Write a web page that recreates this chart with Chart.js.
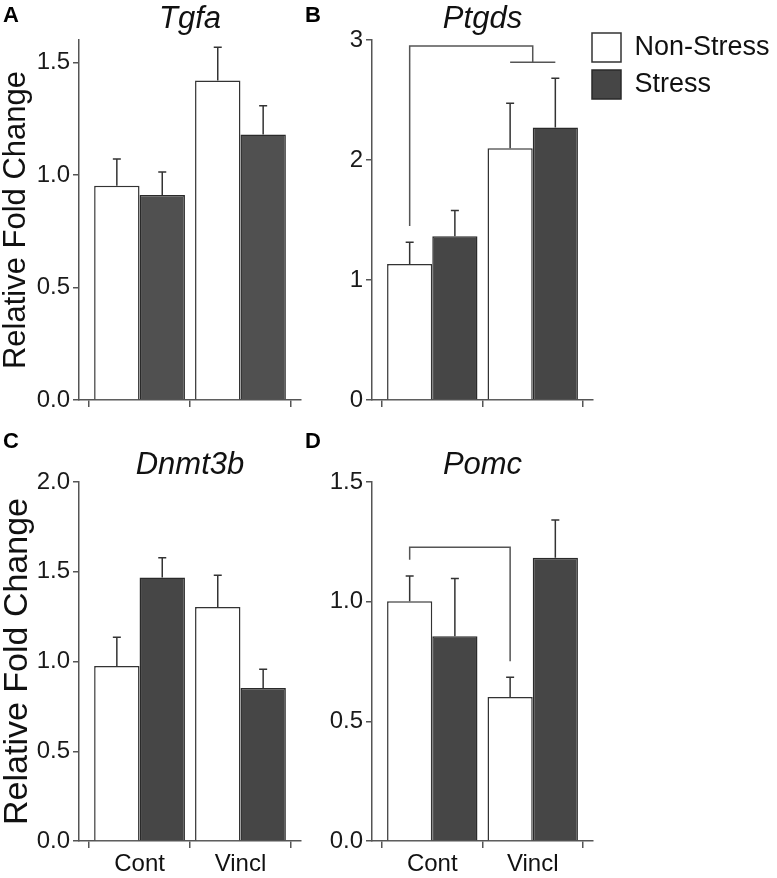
<!DOCTYPE html>
<html>
<head>
<meta charset="utf-8">
<script src="https://cdn.jsdelivr.net/npm/chart.js@4.4.1/dist/chart.umd.min.js"></script>
<style>
html, body { margin: 0; padding: 0; background: #ffffff; }
#wrap { position: relative; width: 777px; height: 878px; overflow: hidden; background: #ffffff; }
canvas { position: absolute; }
.plabel { position: absolute; font: bold 22px/22px "Liberation Sans", Arial, sans-serif; color: #000; }
</style>
</head>
<body>
<div id="wrap">
  <canvas id="cA" width="310" height="420" style="left:0px;top:0px"></canvas>
  <canvas id="cB" width="477" height="420" style="left:300px;top:0px"></canvas>
  <canvas id="cC" width="310" height="458" style="left:0px;top:420px"></canvas>
  <canvas id="cD" width="477" height="458" style="left:300px;top:420px"></canvas>
  <div class="plabel" style="left:3px;top:4px">A</div>
  <div class="plabel" style="left:305px;top:4px">B</div>
  <div class="plabel" style="left:3px;top:430px">C</div>
  <div class="plabel" style="left:305px;top:430px">D</div>
</div>
<script>
// ---------- data ----------
const categories = ['Cont', 'Vincl'];
const seriesNames = ['Non-Stress', 'Stress'];

const tgfaNonStress    = [0.952, 1.420];
const tgfaNonStressErr = [0.119, 0.148];
const tgfaStress       = [0.911, 1.180];
const tgfaStressErr    = [0.102, 0.128];
const tgfaTicks        = [0, 0.5, 1.0, 1.5];
const tgfaTickLabels   = ['0.0', '0.5', '1.0', '1.5'];

const ptgdsNonStress    = [1.134, 2.097];
const ptgdsNonStressErr = [0.180, 0.376];
const ptgdsStress       = [1.364, 2.270];
const ptgdsStressErr    = [0.215, 0.412];
const ptgdsTicks        = [0, 1, 2, 3];
const ptgdsTickLabels   = ['0', '1', '2', '3'];

const dnmt3bNonStress    = [0.975, 1.303];
const dnmt3bNonStressErr = [0.160, 0.178];
const dnmt3bStress       = [1.468, 0.853];
const dnmt3bStressErr    = [0.110, 0.104];
const dnmt3bTicks        = [0, 0.5, 1.0, 1.5, 2.0];
const dnmt3bTickLabels   = ['0.0', '0.5', '1.0', '1.5', '2.0'];

const pomcNonStress    = [1.002, 0.602];
const pomcNonStressErr = [0.105, 0.082];
const pomcStress       = [0.856, 1.183];
const pomcStressErr    = [0.241, 0.158];
const pomcTicks        = [0, 0.5, 1.0, 1.5];
const pomcTickLabels   = ['0.0', '0.5', '1.0', '1.5'];

// significance brackets: x refs (bar centre [dataset, category] or category centre) and y values
const ptgdsBracket = [
  { x: [['bar', 0, 0], ['bar', 0, 0], ['cat', 1], ['cat', 1]], y: [1.45, 2.95, 2.95, 2.815] },
  { x: [['bar', 0, 1], ['bar', 1, 1]], y: [2.815, 2.815] }
];
const pomcBracket = [
  { x: [['bar', 0, 0], ['bar', 0, 0], ['bar', 0, 1], ['bar', 0, 1]], y: [1.175, 1.227, 1.227, 0.751] }
];

// ---------- plugins ----------
const FONT = '"Liberation Sans", Arial, Helvetica, sans-serif';

const errorBars = {
  id: 'errorBars',
  afterDatasetsDraw(chart, args, o) {
    const ctx = chart.ctx, ys = chart.scales.y;
    ctx.save();
    ctx.strokeStyle = o.color || '#333';
    ctx.lineWidth = o.width || 1.5;
    chart.data.datasets.forEach((ds, di) => {
      const meta = chart.getDatasetMeta(di);
      meta.data.forEach((bar, i) => {
        const v = ds.data[i].y, e = ds.errors[i];
        const yt = ys.getPixelForValue(v + e);
        ctx.beginPath();
        ctx.moveTo(bar.x, bar.y);
        ctx.lineTo(bar.x, yt);
        ctx.moveTo(bar.x - (o.cap || 4), yt);
        ctx.lineTo(bar.x + (o.cap || 4), yt);
        ctx.stroke();
      });
    });
    ctx.restore();
  }
};

const brackets = {
  id: 'brackets',
  afterDatasetsDraw(chart, args, o) {
    if (!o || !o.lines) return;
    const ctx = chart.ctx, xs = chart.scales.x, ys = chart.scales.y;
    const px = r => r[0] === 'bar' ? chart.getDatasetMeta(r[1]).data[r[2]].x : xs.getPixelForValue(r[1]);
    ctx.save();
    ctx.strokeStyle = o.color || '#555';
    ctx.lineWidth = o.width || 1.5;
    o.lines.forEach(line => {
      ctx.beginPath();
      line.x.forEach((r, i) => {
        const X = px(r), Y = ys.getPixelForValue(line.y[i]);
        if (i === 0) ctx.moveTo(X, Y); else ctx.lineTo(X, Y);
      });
      ctx.stroke();
    });
    ctx.restore();
  }
};

const legendNudge = {
  id: 'legendNudge',
  afterLayout(chart, args, o) {
    const lg = chart.legend;
    if (!lg || !o || !o.active) return;
    const h = lg.bottom - lg.top;
    lg.left = chart.chartArea.right + o.dx;
    lg.width = o.w;
    lg.right = lg.left + o.w;
    lg.top = chart.chartArea.top + o.dy;
    lg.bottom = lg.top + h;
  }
};

// ---------- builder ----------
function makeChart(id, p) {
  const toPts = arr => arr.map((v, i) => ({ x: i, y: v }));
  return new Chart(document.getElementById(id), {
    type: 'bar',
    data: {
      datasets: [
        { label: seriesNames[0], data: toPts(p.ns), errors: p.nsErr,
          backgroundColor: '#ffffff', borderColor: '#333333', borderWidth: 1.5 },
        { label: seriesNames[1], data: toPts(p.s), errors: p.sErr,
          backgroundColor: p.dark, borderColor: '#2a2a2a', borderWidth: 1.5 }
      ]
    },
    options: {
      responsive: false,
      animation: false,
      devicePixelRatio: 1,
      datasets: { bar: { categoryPercentage: 0.9, barPercentage: 1.0 } },
      layout: { padding: { left: 0, top: p.padTop, right: p.padRight, bottom: 0 } },
      scales: {
        x: {
          type: 'linear', min: -0.6, max: 1.6, offset: false,
          afterBuildTicks: s => { s.ticks = categories.map((c, i) => ({ value: i })); },
          afterFit: s => { s.height = p.xH; },
          grid: { drawOnChartArea: false, drawTicks: true, tickLength: 7, color: '#555', lineWidth: 1.5 },
          border: { display: true, color: '#555', width: 1.5 },
          ticks: { display: p.showX, callback: v => categories[v], autoSkip: false, maxRotation: 0,
                   padding: 2, color: '#111', font: { family: FONT, size: 24 } }
        },
        y: {
          min: 0, max: p.max,
          afterBuildTicks: s => { s.ticks = p.ticks.map(v => ({ value: v })); },
          afterFit: s => { s.width = p.yW; },
          grid: { drawOnChartArea: false, drawTicks: true, tickLength: 6, color: '#555', lineWidth: 1.5 },
          border: { display: true, color: '#555', width: 1.5 },
          ticks: { callback: v => p.tickLabels[p.ticks.indexOf(v)], padding: 3, color: '#1a1a1a',
                   font: { family: FONT, size: 24 } },
          title: { display: !!p.yTitle, text: p.yTitle || '', color: '#111',
                   font: { family: FONT, size: p.yTitleSize || 29, lineHeight: 1 },
                   padding: { top: p.yTitlePad || 1, bottom: 0 } }
        }
      },
      plugins: {
        legend: p.legend ? {
          display: true, position: 'right', align: 'start', fullSize: false, maxWidth: 90,
          labels: { boxWidth: 29, boxHeight: 29, padding: 8, color: '#111',
                    font: { family: FONT, size: 27 } }
        } : { display: false },
        legendNudge: { active: !!p.legend, dx: -9, dy: -15, w: 190 },
        title: {
          display: true, text: p.title, fullSize: false, color: '#111',
          font: { family: FONT, size: 31, style: 'italic', weight: 'normal', lineHeight: 34 / 31 },
          padding: { top: 0, bottom: p.titleBottom }
        },
        tooltip: { enabled: false },
        errorBars: { color: '#333', width: 1.5, cap: 4 },
        brackets: { lines: p.bracket || null, color: '#555', width: 1.5 }
      }
    },
    plugins: [errorBars, brackets, legendNudge]
  });
}

makeChart('cA', {
  title: 'Tgfa', ns: tgfaNonStress, nsErr: tgfaNonStressErr, s: tgfaStress, sErr: tgfaStressErr,
  ticks: tgfaTicks, tickLabels: tgfaTickLabels, max: 1.6, dark: '#505050',
  padTop: 2, titleBottom: 4, padRight: 9, xH: 20, yW: 79, showX: false,
  yTitle: 'Relative Fold Change', yTitleSize: 31, yTitlePad: 1
});
makeChart('cB', {
  title: 'Ptgds', ns: ptgdsNonStress, nsErr: ptgdsNonStressErr, s: ptgdsStress, sErr: ptgdsStressErr,
  ticks: ptgdsTicks, tickLabels: ptgdsTickLabels, max: 3, dark: '#464646',
  padTop: 2, titleBottom: 4, padRight: 94, xH: 20, yW: 72, showX: false,
  legend: true, bracket: ptgdsBracket
});
makeChart('cC', {
  title: 'Dnmt3b', ns: dnmt3bNonStress, nsErr: dnmt3bNonStressErr, s: dnmt3bStress, sErr: dnmt3bStressErr,
  ticks: dnmt3bTicks, tickLabels: dnmt3bTickLabels, max: 2.0, dark: '#464646',
  padTop: 28, titleBottom: 0, padRight: 9, xH: 37, yW: 79, showX: true,
  yTitle: 'Relative Fold Change', yTitleSize: 34, yTitlePad: 0
});
makeChart('cD', {
  title: 'Pomc', ns: pomcNonStress, nsErr: pomcNonStressErr, s: pomcStress, sErr: pomcStressErr,
  ticks: pomcTicks, tickLabels: pomcTickLabels, max: 1.5, dark: '#464646',
  padTop: 28, titleBottom: 0, padRight: 184, xH: 37, yW: 72, showX: true,
  bracket: pomcBracket
});
</script>
</body>
</html>
